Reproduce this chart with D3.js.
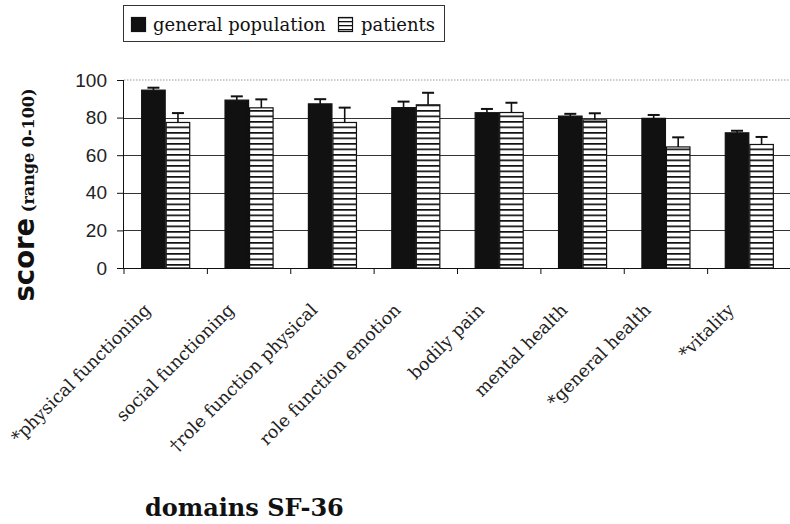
<!DOCTYPE html>
<html>
<head>
<meta charset="utf-8">
<script src="https://cdn.jsdelivr.net/npm/d3@7"></script>
<style>
  html, body { margin: 0; padding: 0; background: #fff; }
  svg { display: block; }
</style>
</head>
<body>
<svg id="chart" width="790" height="524"></svg>
<script>
// SF-36 domain scores: general population vs. patients (mean with upper error bar)
const domains = [
  "*physical functioning",
  "social functioning",
  "\u2020role function physical",
  "role function emotion",
  "bodily pain",
  "mental health",
  "*general health",
  "*vitality"
];
const seriesNames = ["general population", "patients"];
const generalPopulation = [94.6, 89.3, 87.3, 85.3, 82.6, 80.8, 79.6, 71.9];
const generalPopulationErr = [1.3, 2.0, 2.5, 3.2, 2.0, 1.2, 1.8, 1.1];
const patients = [77.4, 85.2, 77.4, 86.8, 82.7, 78.8, 64.4, 65.7];
const patientsErr = [5.0, 4.5, 7.9, 6.4, 5.2, 3.5, 5.1, 4.0];
const yTicks = [0, 20, 40, 60, 80, 100];

const svg = d3.select("#chart");
const margin = { left: 124, right: -1, top: 80, bottom: 256 };
const W = 790, H = 524;
const plotLeft = margin.left, plotRight = W - margin.right;
const plotTop = margin.top, plotBottom = H - margin.bottom;

const x0 = d3.scaleBand().domain(domains).range([plotLeft, plotRight]).paddingInner(0).paddingOuter(0);
const x1 = d3.scaleBand().domain(seriesNames).range([0, x0.bandwidth()]).paddingInner(0).paddingOuter(0.7);
const y = d3.scaleLinear().domain([0, 100]).range([plotBottom, plotTop]);

// hatched fill for the patients series
const defs = svg.append("defs");
const pat = defs.append("pattern")
  .attr("id", "hstripes")
  .attr("patternUnits", "userSpaceOnUse")
  .attr("width", 10).attr("height", 5.5);
pat.append("rect").attr("width", 10).attr("height", 5.5).attr("fill", "#fff");
pat.append("rect").attr("y", 0).attr("width", 10).attr("height", 1.7).attr("fill", "#111");

const patSmall = defs.append("pattern")
  .attr("id", "hstripesSmall")
  .attr("patternUnits", "userSpaceOnUse")
  .attr("width", 10).attr("height", 4)
  .attr("y", 1);
patSmall.append("rect").attr("width", 10).attr("height", 4).attr("fill", "#fff");
patSmall.append("rect").attr("width", 10).attr("height", 1.3).attr("fill", "#111");

// plot area top border (dotted) and gridlines
svg.append("line")
  .attr("x1", plotLeft).attr("x2", plotRight)
  .attr("y1", y(100)).attr("y2", y(100))
  .attr("stroke", "#999").attr("stroke-width", 1).attr("stroke-dasharray", "1.5,1.5");

svg.append("g")
  .selectAll("line")
  .data(yTicks.filter(d => d > 0 && d < 100))
  .join("line")
  .attr("x1", plotLeft).attr("x2", plotRight)
  .attr("y1", d => Math.round(y(d)) + 0.5).attr("y2", d => Math.round(y(d)) + 0.5)
  .attr("stroke", "#333").attr("stroke-width", 1);

// bars
const rows = domains.map((d, i) => ({
  domain: d,
  values: [
    { key: seriesNames[0], value: generalPopulation[i], err: generalPopulationErr[i] },
    { key: seriesNames[1], value: patients[i], err: patientsErr[i] }
  ]
}));

const groups = svg.append("g").selectAll("g")
  .data(rows)
  .join("g")
  .attr("transform", d => `translate(${x0(d.domain)},0)`);

groups.selectAll("rect")
  .data(d => d.values)
  .join("rect")
  .attr("x", d => x1(d.key) + 0.5)
  .attr("y", d => y(d.value))
  .attr("width", x1.bandwidth() - 1)
  .attr("height", d => y(0) - y(d.value))
  .attr("fill", d => d.key === seriesNames[0] ? "#111" : "url(#hstripes)")
  .attr("stroke", "#111")
  .attr("stroke-width", 1.2);

// upper error bars
const capW = 12;
groups.selectAll("line.err")
  .data(d => d.values)
  .join("line")
  .attr("class", "err")
  .attr("x1", d => x1(d.key) + x1.bandwidth() / 2)
  .attr("x2", d => x1(d.key) + x1.bandwidth() / 2)
  .attr("y1", d => y(d.value))
  .attr("y2", d => y(d.value + d.err))
  .attr("stroke", "#111").attr("stroke-width", 1.6);
groups.selectAll("line.cap")
  .data(d => d.values)
  .join("line")
  .attr("class", "cap")
  .attr("x1", d => x1(d.key) + x1.bandwidth() / 2 - capW / 2)
  .attr("x2", d => x1(d.key) + x1.bandwidth() / 2 + capW / 2)
  .attr("y1", d => y(d.value + d.err))
  .attr("y2", d => y(d.value + d.err))
  .attr("stroke", "#111").attr("stroke-width", 2);

// y axis
const yAxis = svg.append("g")
  .attr("transform", `translate(${plotLeft},0)`)
  .call(d3.axisLeft(y).tickValues(yTicks).tickSize(7).tickPadding(10).tickFormat(d3.format("d")));
yAxis.select(".domain").attr("stroke", "#111").attr("d", `M-0.5,${y(100)}V${y(0)}`);
yAxis.selectAll(".tick line").attr("stroke", "#111");
yAxis.selectAll(".tick text")
  .attr("font-family", "'Liberation Sans', Arial, sans-serif")
  .attr("font-size", 19)
  .attr("fill", "#222");

// x axis: baseline plus boundary ticks
const boundaries = domains.map(d => x0(d)).concat([plotRight]);
svg.append("line")
  .attr("x1", plotLeft - 7).attr("x2", plotRight)
  .attr("y1", y(0) + 0.5).attr("y2", y(0) + 0.5)
  .attr("stroke", "#111").attr("stroke-width", 1);
svg.append("g").selectAll("line")
  .data(boundaries)
  .join("line")
  .attr("x1", d => d).attr("x2", d => d)
  .attr("y1", y(0)).attr("y2", y(0) + 6)
  .attr("stroke", "#111");

// rotated category labels
svg.append("g").selectAll("text")
  .data(domains)
  .join("text")
  .attr("transform", d => `translate(${x0(d) + x0.bandwidth() / 2 - 14},${y(0) + 43}) rotate(-45)`)
  .attr("text-anchor", "end")
  .attr("font-family", "'DejaVu Serif', serif")
  .attr("font-size", 17.5)
  .attr("fill", "#222")
  .text(d => d);

// axis titles
const yTitle = svg.append("text")
  .attr("transform", `translate(34,${(y(0) + y(100)) / 2 + 21}) rotate(-90)`)
  .attr("text-anchor", "middle")
  .attr("fill", "#111");
yTitle.append("tspan")
  .attr("font-family", "'DejaVu Sans', sans-serif")
  .attr("font-weight", "bold")
  .attr("font-size", 27.5)
  .text("score");
yTitle.append("tspan")
  .attr("font-family", "'DejaVu Serif', serif")
  .attr("font-weight", "bold")
  .attr("font-size", 16)
  .text(" (range 0-100)");

svg.append("text")
  .attr("x", 145).attr("y", 516)
  .attr("font-family", "'DejaVu Serif', serif")
  .attr("font-weight", "bold")
  .attr("font-size", 24)
  .attr("fill", "#111")
  .text("domains SF-36");

// legend
const legend = svg.append("g");
legend.append("rect")
  .attr("x", 123.5).attr("y", 5.5).attr("width", 321).attr("height", 36)
  .attr("fill", "#fff").attr("stroke", "#333").attr("stroke-width", 1);
const legendItems = [
  { name: seriesNames[0], fill: "#111", sx: 131, tx: 153 },
  { name: seriesNames[1], fill: "url(#hstripesSmall)", sx: 338, tx: 361 }
];
legend.selectAll("rect.swatch")
  .data(legendItems)
  .join("rect")
  .attr("class", "swatch")
  .attr("x", d => d.sx + 0.5).attr("y", 17.5)
  .attr("width", 14).attr("height", 14)
  .attr("fill", d => d.fill)
  .attr("stroke", "#111").attr("stroke-width", 1.2);
legend.selectAll("text")
  .data(legendItems)
  .join("text")
  .attr("x", d => d.tx).attr("y", 31)
  .attr("font-family", "'DejaVu Serif', serif")
  .attr("font-size", 18)
  .attr("fill", "#111")
  .text(d => d.name);
</script>
</body>
</html>
